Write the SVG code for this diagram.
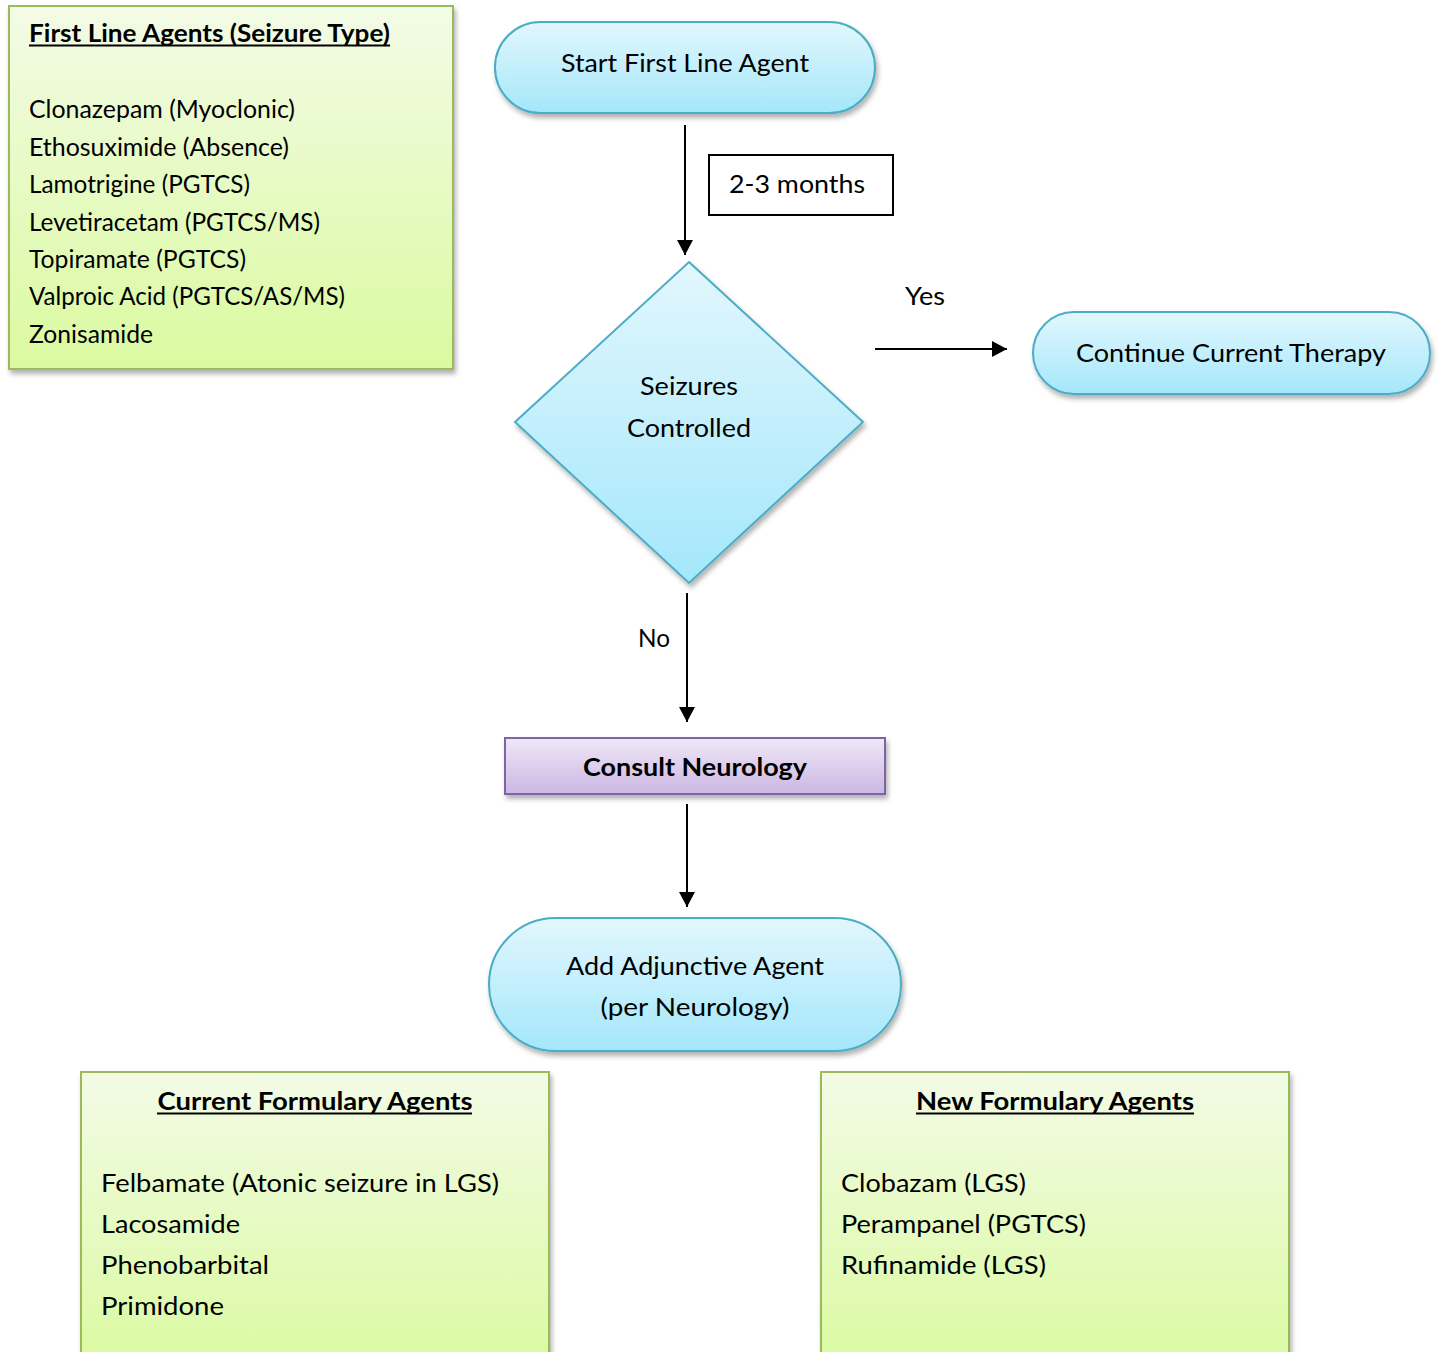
<svg xmlns="http://www.w3.org/2000/svg" width="1439" height="1352" viewBox="0 0 1439 1352">
<style>
text{font-family:Lato,"Liberation Sans",sans-serif;font-size:25px;fill:#000}
.b{font-weight:bold}
.ul{stroke:#000;stroke-width:2}
.m{text-anchor:middle}
.green{fill:url(#gGreen);stroke:#9bbb59;stroke-width:2}
.blue{fill:url(#gBlue);stroke:#4bacc6;stroke-width:2}
.purple{fill:url(#gPurple);stroke:#8064a2;stroke-width:2}
.edge{stroke:#000;stroke-width:2;fill:none;marker-end:url(#arr)}
</style>
<defs>
<linearGradient id="gGreen" x1="0" y1="0" x2="0" y2="1"><stop offset="0" stop-color="#f3fbe6"/><stop offset="1" stop-color="#dafaa0"/></linearGradient>
<linearGradient id="gBlue" x1="0" y1="0" x2="0" y2="1"><stop offset="0" stop-color="#e2f7fd"/><stop offset="1" stop-color="#a4e7fb"/></linearGradient>
<linearGradient id="gPurple" x1="0" y1="0" x2="0" y2="1"><stop offset="0" stop-color="#efe8f7"/><stop offset="1" stop-color="#cbb6e2"/></linearGradient>
<filter id="sh" x="-10%" y="-10%" width="120%" height="130%"><feDropShadow dx="2" dy="4" stdDeviation="2.5" flood-color="#000" flood-opacity="0.3"/></filter>
<marker id="arr" markerWidth="16" markerHeight="18" viewBox="0 0 16 18" refX="15" refY="9" orient="auto" markerUnits="userSpaceOnUse"><path d="M0,1 L15,9 L0,17 Z" fill="#000"/></marker>
</defs>

<g id="connectors">
<line class="edge" x1="685" y1="125" x2="685" y2="255"/>
<line class="edge" x1="875" y1="349" x2="1007" y2="349"/>
<line class="edge" x1="687" y1="593" x2="687" y2="722"/>
<line class="edge" x1="687" y1="804" x2="687" y2="907"/>
<g id="label-months">
<rect x="709" y="155" width="184" height="60" fill="#fff" stroke="#000" stroke-width="2"/>
<text class="m" x="797" y="193" textLength="136" lengthAdjust="spacingAndGlyphs">2-3 months</text>
</g>
<text id="label-yes" x="905" y="305" textLength="40" lengthAdjust="spacingAndGlyphs">Yes</text>
<text id="label-no" x="638" y="647" textLength="32" lengthAdjust="spacingAndGlyphs">No</text>
</g>

<g id="first-line-agents">
<rect class="green" x="9" y="6" width="444" height="363" filter="url(#sh)"/>
<text class="b" x="29" y="42" textLength="361" lengthAdjust="spacingAndGlyphs">First Line Agents (Seizure Type)</text>
<line class="ul" x1="29" y1="45.5" x2="390" y2="45.5"/>
<text x="29" y="118" textLength="266" lengthAdjust="spacingAndGlyphs">Clonazepam (Myoclonic)</text>
<text x="29" y="156" textLength="260" lengthAdjust="spacingAndGlyphs">Ethosuximide (Absence)</text>
<text x="29" y="193" textLength="221" lengthAdjust="spacingAndGlyphs">Lamotrigine (PGTCS)</text>
<text x="29" y="231" textLength="291" lengthAdjust="spacingAndGlyphs">Levetiracetam (PGTCS/MS)</text>
<text x="29" y="268" textLength="217" lengthAdjust="spacingAndGlyphs">Topiramate (PGTCS)</text>
<text x="29" y="305" textLength="316" lengthAdjust="spacingAndGlyphs">Valproic Acid (PGTCS/AS/MS)</text>
<text x="29" y="343" textLength="124" lengthAdjust="spacingAndGlyphs">Zonisamide</text>
</g>

<g id="start">
<rect class="blue" x="495" y="22" width="380" height="91" rx="45.5" filter="url(#sh)"/>
<text class="m" x="685" y="72" textLength="248" lengthAdjust="spacingAndGlyphs">Start First Line Agent</text>
</g>

<g id="decision">
<polygon class="blue" points="689,262 863,422 689,583 515,422" filter="url(#sh)"/>
<text class="m" x="689" y="395" textLength="98" lengthAdjust="spacingAndGlyphs">Seizures</text>
<text class="m" x="689" y="437" textLength="124" lengthAdjust="spacingAndGlyphs">Controlled</text>
</g>

<g id="continue">
<rect class="blue" x="1033" y="312" width="397" height="82" rx="41" filter="url(#sh)"/>
<text class="m" x="1231" y="362" textLength="310" lengthAdjust="spacingAndGlyphs">Continue Current Therapy</text>
</g>

<g id="consult">
<rect class="purple" x="505" y="738" width="380" height="56" filter="url(#sh)"/>
<text class="m b" x="695" y="776" textLength="224" lengthAdjust="spacingAndGlyphs">Consult Neurology</text>
</g>

<g id="adjunctive">
<rect class="blue" x="489" y="918" width="412" height="133" rx="66.5" filter="url(#sh)"/>
<text class="m" x="695" y="975" textLength="258" lengthAdjust="spacingAndGlyphs">Add Adjunctive Agent</text>
<text class="m" x="695" y="1016" textLength="189" lengthAdjust="spacingAndGlyphs">(per Neurology)</text>
</g>

<g id="current-formulary">
<rect class="green" x="81" y="1072" width="468" height="300" filter="url(#sh)"/>
<text class="m b" x="315" y="1110" textLength="315" lengthAdjust="spacingAndGlyphs">Current Formulary Agents</text>
<line class="ul" x1="157" y1="1113.5" x2="472" y2="1113.5"/>
<text x="101" y="1192" textLength="398" lengthAdjust="spacingAndGlyphs">Felbamate (Atonic seizure in LGS)</text>
<text x="101" y="1233" textLength="139" lengthAdjust="spacingAndGlyphs">Lacosamide</text>
<text x="101" y="1274" textLength="168" lengthAdjust="spacingAndGlyphs">Phenobarbital</text>
<text x="101" y="1315" textLength="123" lengthAdjust="spacingAndGlyphs">Primidone</text>
</g>

<g id="new-formulary">
<rect class="green" x="821" y="1072" width="468" height="300" filter="url(#sh)"/>
<text class="m b" x="1055" y="1110" textLength="278" lengthAdjust="spacingAndGlyphs">New Formulary Agents</text>
<line class="ul" x1="916" y1="1113.5" x2="1194" y2="1113.5"/>
<text x="841" y="1192" textLength="185" lengthAdjust="spacingAndGlyphs">Clobazam (LGS)</text>
<text x="841" y="1233" textLength="245" lengthAdjust="spacingAndGlyphs">Perampanel (PGTCS)</text>
<text x="841" y="1274" textLength="205" lengthAdjust="spacingAndGlyphs">Rufinamide (LGS)</text>
</g>
</svg>
